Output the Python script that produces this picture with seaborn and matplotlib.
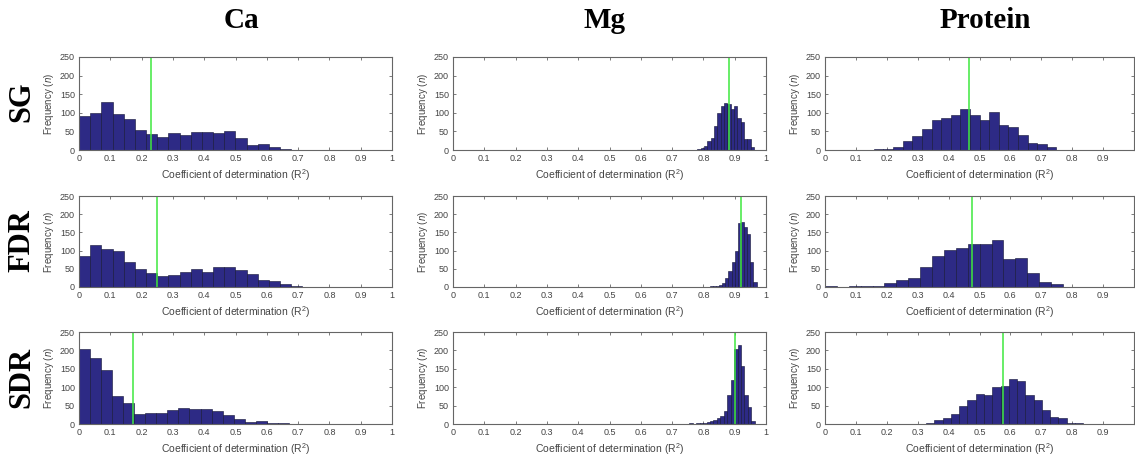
import seaborn as sns
import matplotlib.pyplot as plt
import pandas as pd
import numpy as np

sns.set_style("white")
plt.rcParams['font.family'] = ['Liberation Sans', 'DejaVu Sans']
plt.rcParams['mathtext.fontset'] = 'custom'
plt.rcParams['mathtext.rm'] = 'Liberation Sans'
plt.rcParams['mathtext.it'] = 'Liberation Sans:italic'

methods = ["SG", "FDR", "SDR"]
targets = ["Ca", "Mg", "Protein"]

# histogram counts, one list per panel
ca_sg = [92, 100, 128, 98, 84, 54, 43, 36, 45, 39, 49, 49, 47, 52, 31, 13, 17, 7, 3, 1]
ca_fdr = [86, 116, 105, 99, 69, 50, 39, 31, 33, 42, 50, 40, 56, 55, 47, 37, 18, 16, 9, 2, 1]
ca_sdr = [205, 180, 148, 75, 56, 26, 30, 30, 38, 43, 41, 41, 36, 24, 13, 6, 8, 2, 4, 1]
mg_sg = [1, 1, 1, 2, 5, 10, 25, 33, 65, 100, 117, 127, 125, 110, 118, 85, 75, 30, 30, 8]
mg_fdr = [1, 0, 1, 1, 1, 2, 2, 3, 6, 12, 25, 45, 70, 100, 175, 178, 165, 145, 70, 15]
mg_sdr = [1, 1, 2, 1, 2, 3, 4, 6, 8, 10, 15, 23, 35, 80, 120, 205, 215, 157, 80, 45, 7]
pr_sg = [1, 2, 4, 8, 25, 38, 56, 80, 85, 95, 110, 95, 80, 103, 67, 63, 40, 18, 15, 7]
pr_fdr = [4, 1, 4, 2, 4, 12, 19, 25, 56, 85, 101, 108, 118, 118, 128, 76, 79, 38, 15, 7]
pr_sdr = [1, 3, 10, 15, 27, 48, 65, 82, 80, 101, 103, 122, 118, 80, 65, 38, 20, 16, 3, 2]

# first bin edge and bin width of each panel
bin_start = {"Ca": [0.0, 0.0, 0.0], "Mg": [0.748, 0.77, 0.733], "Protein": [0.127, 0.0, 0.30]}
bin_width = {"Ca": [0.0357, 0.0357, 0.0353], "Mg": [0.0107, 0.010, 0.011],
             "Protein": [0.0311, 0.0385, 0.0268]}

# green line (mean R2) per panel
mean_r2 = {"Ca": [0.23, 0.249, 0.171], "Mg": [0.882, 0.921, 0.900], "Protein": [0.466, 0.477, 0.577]}

counts = {"Ca": [ca_sg, ca_fdr, ca_sdr], "Mg": [mg_sg, mg_fdr, mg_sdr],
          "Protein": [pr_sg, pr_fdr, pr_sdr]}

bar_color = "#2d2a85"
line_color = "#3ee83e"
axis_color = "#666666"
text_color = "#444444"

W, H = 1135, 459
fig = plt.figure(figsize=(W / 100, H / 100), dpi=100)

col_left = [79, 453, 825]
col_width = [313, 313, 309]
row_top = [57, 196, 332]
row_bottom = [150, 287, 424]

for j, t in enumerate(targets):
    for i, m in enumerate(methods):
        ax = fig.add_axes([col_left[j] / W, 1 - row_bottom[i] / H,
                           col_width[j] / W, (row_bottom[i] - row_top[i]) / H])
        c = counts[t][i]
        w = bin_width[t][i]
        x0 = bin_start[t][i]
        centers = x0 + w * (np.arange(len(c)) + 0.5)
        df = pd.DataFrame({"r2": centers, "n": c})
        sns.histplot(data=df, x="r2", weights="n", binwidth=w,
                     binrange=(x0, x0 + w * len(c)), ax=ax,
                     color=bar_color, edgecolor="#111133", linewidth=0.4, alpha=1)
        ax.axvline(mean_r2[t][i], color=line_color, lw=1.1)
        ax.set_xlim(0, 1)
        ax.set_ylim(0, 250)
        ax.set_yticks([0, 50, 100, 150, 200, 250])
        if t == "Protein":
            xt = np.round(np.arange(0, 1.0, 0.1), 1)
        else:
            xt = np.round(np.arange(0, 1.05, 0.1), 1)
        ax.set_xticks(xt)
        ax.set_xticklabels(["0" if v == 0 else ("1" if v == 1 else f"{v:g}") for v in xt])
        ax.tick_params(direction="in", bottom=True, left=True, top=True, right=True,
                       length=2.5, width=0.6, labelsize=6.5, colors=axis_color,
                       labelcolor=text_color, pad=3)
        for s in ax.spines.values():
            s.set_color(axis_color)
            s.set_linewidth(0.8)
        ax.set_xlabel("Coefficient of determination (R$^2$)", fontsize=7.5,
                      color=text_color, labelpad=3)
        ax.set_ylabel("Frequency ($\\mathit{n}$)", fontsize=7, color=text_color, labelpad=3)

title_x = [241, 604, 985]
for j, t in enumerate(targets):
    fig.text(title_x[j] / W, 1 - 20 / H, t, ha="center", va="center", color="black",
             fontsize=21, fontweight="bold", family="Liberation Serif")

row_y = [102, 241, 377]
for i, m in enumerate(methods):
    fig.text(22 / W, 1 - row_y[i] / H, m, ha="center", va="center", rotation=90,
             color="black", fontsize=22, fontweight="bold", family="Liberation Serif")

fig.savefig("out.png", dpi=100)
